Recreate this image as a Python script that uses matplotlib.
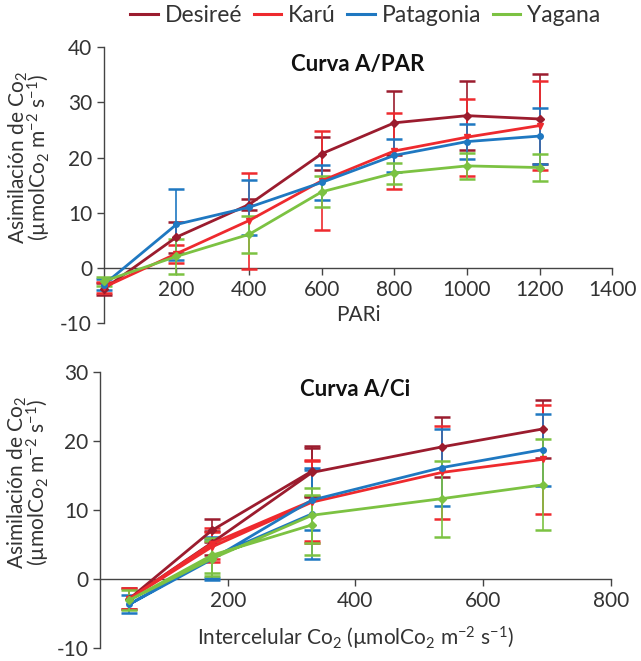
import matplotlib.pyplot as plt

plt.rcParams['font.family'] = ['Lato', 'DejaVu Sans']
plt.rcParams['mathtext.fontset'] = 'custom'
plt.rcParams['mathtext.rm'] = 'Lato'
plt.rcParams['mathtext.it'] = 'Lato:italic'
plt.rcParams['mathtext.bf'] = 'Lato:bold'
plt.rcParams['axes.unicode_minus'] = False

varieties = ["Desireé", "Karú", "Patagonia", "Yagana"]
colors = ["#9b1c2e", "#ee2a2e", "#1f78c1", "#7cc242"]
markers = ["D", "v", "o", "D"]

# A/PAR curve
par = [0, 200, 400, 600, 800, 1000, 1200]
par_desiree = [-3.8, 5.6, 11.5, 20.7, 26.3, 27.6, 27.0]
par_desiree_err = [1.1, 2.8, 1.0, 3.0, 5.8, 6.3, 8.1]
par_karu = [-3.5, 2.6, 8.6, 15.8, 21.2, 23.7, 25.8]
par_karu_err = [1.0, 1.6, 8.7, 9.0, 6.8, 7.0, 8.0]
par_patagonia = [-3.0, 7.9, 11.0, 15.5, 20.4, 22.9, 23.9]
par_patagonia_err = [1.0, 6.5, 5.0, 3.2, 3.0, 3.2, 5.0]
par_yagana = [-2.4, 2.1, 6.1, 13.8, 17.2, 18.5, 18.2]
par_yagana_err = [0.8, 3.1, 3.3, 2.8, 1.9, 2.3, 2.5]

# A/Ci curve (measurement order, Ci revisits 175 and 332)
ci = [332, 175, 46, 175, 332, 535, 693]
ci_desiree = [15.7, 7.1, -2.8, 5.3, 15.5, 19.2, 21.8]
ci_desiree_err = [3.6, 1.7, 1.5, 1.7, 3.6, 4.4, 4.2]
ci_karu = [11.4, 5.2, -2.8, 4.7, 11.2, 15.5, 17.4]
ci_karu_err = [5.9, 2.2, 1.5, 2.2, 5.9, 6.8, 7.9]
ci_patagonia = [9.5, 3.2, -3.6, 2.9, 11.5, 16.2, 18.8]
ci_patagonia_err = [6.6, 3.0, 1.3, 3.0, 4.3, 5.6, 5.2]
ci_yagana = [7.9, 3.5, -3.0, 3.0, 9.3, 11.7, 13.7]
ci_yagana_err = [4.4, 2.5, 1.5, 2.5, 4.0, 5.5, 6.6]

ylabel = "Asimilación de Co$_2$\n(µmolCo$_2$ m$^{-2}$ s$^{-1}$)"
text_color = "#333333"


def style_axes(ax, xmax, xticks, ymin, ymax):
    ax.set_xlim(0, xmax)
    ax.set_ylim(ymin, ymax)
    ax.set_xticks(xticks)
    ax.set_yticks(range(ymin, ymax + 1, 10))
    ax.spines['top'].set_visible(False)
    ax.spines['right'].set_visible(False)
    ax.spines['bottom'].set_position(('data', 0))
    for s in ['left', 'bottom']:
        ax.spines[s].set_color("#444444")
        ax.spines[s].set_linewidth(1.0)
    ax.tick_params(labelsize=15, colors="#444444", labelcolor=text_color,
                   length=5, width=1.0)
    ax.set_ylabel(ylabel, fontsize=15, color=text_color, linespacing=0.8)


def draw(ax, x, series):
    for (vals, errs), name, c, m in zip(series, varieties, colors, markers):
        ax.errorbar(x, vals, yerr=errs, color=c, lw=2, marker=m, ms=4,
                    elinewidth=1.2, capsize=6, capthick=1.8, label=name,
                    clip_on=False, zorder=3)


fig = plt.figure(figsize=(6.41, 6.61), dpi=100)
ax1 = fig.add_axes([0.162, 0.511, 0.793, 0.4176])
ax2 = fig.add_axes([0.156, 0.019, 0.797, 0.4176])

draw(ax1, par, [(par_desiree, par_desiree_err), (par_karu, par_karu_err),
                (par_patagonia, par_patagonia_err), (par_yagana, par_yagana_err)])
style_axes(ax1, 1400, [200, 400, 600, 800, 1000, 1200, 1400], -10, 40)
ax1.set_xlabel("PARi", fontsize=15, color=text_color)
ax1.xaxis.set_label_coords(0.5, 0.065)
ax1.yaxis.set_label_coords(-0.1, 0.6)
ax1.text(0.5, 0.975, "Curva A/PAR", transform=ax1.transAxes, ha='center',
         va='top', fontsize=16, fontweight='bold', color="#111111")

draw(ax2, ci, [(ci_desiree, ci_desiree_err), (ci_karu, ci_karu_err),
               (ci_patagonia, ci_patagonia_err), (ci_yagana, ci_yagana_err)])
style_axes(ax2, 800, [200, 400, 600, 800], -10, 30)
ax2.set_xlabel("Intercelular Co$_2$ (µmolCo$_2$ m$^{-2}$ s$^{-1}$)",
               fontsize=15, color=text_color)
ax2.xaxis.set_label_coords(0.5, 0.085)
ax2.yaxis.set_label_coords(-0.094, 0.6)
ax2.text(0.5, 0.975, "Curva A/Ci", transform=ax2.transAxes, ha='center',
         va='top', fontsize=16, fontweight='bold', color="#111111")

handles = [plt.Line2D([], [], color=c, lw=2.2) for c in colors]
fig.legend(handles, varieties, loc='center', bbox_to_anchor=(0.57, 0.977),
           ncol=4, frameon=False, fontsize=16.5, handlelength=1.2,
           handletextpad=0.3, columnspacing=0.5, labelcolor=text_color)

fig.savefig("out.png", dpi=100)
